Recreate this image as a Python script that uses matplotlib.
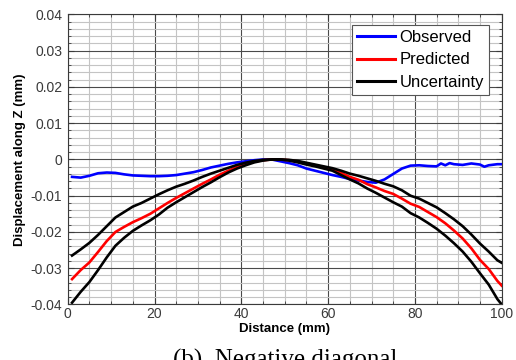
import matplotlib
matplotlib.use("Agg")
from matplotlib import pyplot as plt
from matplotlib.ticker import MultipleLocator, FormatStrFormatter
import numpy as np

# distance (mm) for predicted / uncertainty bands
x_band = [1, 3, 5, 7, 9, 11, 13, 15, 17, 19, 21, 23, 25, 27, 29, 31, 33, 35, 37, 39,
          41, 43, 45, 47, 49, 51, 53, 55, 57, 59, 61, 63, 65, 67, 69, 71, 73, 75, 77, 79,
          81, 83, 85, 87, 89, 91, 93, 95, 97, 99, 100]

predicted = [-0.0330, -0.0305, -0.0284, -0.0255, -0.0225, -0.0200, -0.0186, -0.0173, -0.0162, -0.0150,
             -0.0135, -0.0120, -0.0106, -0.0093, -0.0080, -0.0067, -0.0055, -0.0042, -0.0031, -0.0021,
             -0.0013, -0.0006, -0.0002, 0.0, 0.0, -0.0002, -0.0006, -0.0011, -0.0016, -0.0021,
             -0.0027, -0.0037, -0.0048, -0.0056, -0.0068, -0.0077, -0.0087, -0.0095, -0.0108, -0.0122,
             -0.0131, -0.0145, -0.0159, -0.0176, -0.0196, -0.0218, -0.0245, -0.0277, -0.0302, -0.0335, -0.0348]

upper = [-0.0265, -0.0248, -0.0230, -0.0208, -0.0184, -0.0160, -0.0145, -0.0130, -0.0120, -0.0108,
         -0.0096, -0.0085, -0.0075, -0.0067, -0.0058, -0.0048, -0.0039, -0.0031, -0.0023, -0.0015,
         -0.0009, -0.0004, -0.0001, 0.0, 0.0, -0.0001, -0.0004, -0.0009, -0.0014, -0.0019,
         -0.0024, -0.0031, -0.0039, -0.0045, -0.0052, -0.0059, -0.0067, -0.0074, -0.0085, -0.0100,
         -0.0108, -0.0120, -0.0132, -0.0148, -0.0165, -0.0184, -0.0207, -0.0232, -0.0254, -0.0278, -0.0285]

lower = [-0.0395, -0.0365, -0.0338, -0.0305, -0.0270, -0.0238, -0.0216, -0.0197, -0.0182, -0.0168,
         -0.0152, -0.0133, -0.0118, -0.0104, -0.0090, -0.0076, -0.0063, -0.0049, -0.0036, -0.0025,
         -0.0016, -0.0008, -0.0003, 0.0, 0.0, -0.0003, -0.0008, -0.0014, -0.0019, -0.0025,
         -0.0031, -0.0043, -0.0055, -0.0066, -0.0080, -0.0092, -0.0105, -0.0118, -0.0130, -0.0148,
         -0.0160, -0.0175, -0.0191, -0.0210, -0.0231, -0.0254, -0.0282, -0.0314, -0.0345, -0.0385, -0.0400]

# observed displacement
x_obs = [1, 3, 5, 7, 9, 11, 13, 15, 17, 19, 21, 23, 25, 27, 29, 31, 33, 35, 37, 39,
         41, 43, 45, 47, 49, 51, 53, 55, 57, 59, 61, 63, 65, 67, 69, 71, 73, 75, 77, 79,
         81, 83, 85, 86, 87, 88, 89, 91, 93, 95, 96, 97, 99, 100]
observed = [-0.0048, -0.0050, -0.0045, -0.0038, -0.0036, -0.0037, -0.0041, -0.0044, -0.0045, -0.0046,
            -0.0046, -0.0045, -0.0043, -0.0039, -0.0035, -0.0029, -0.0022, -0.0017, -0.0012, -0.0008,
            -0.0005, -0.0002, 0.0, 0.0, -0.0005, -0.0010, -0.0016, -0.0025, -0.0031, -0.0037,
            -0.0043, -0.0048, -0.0054, -0.0058, -0.0062, -0.0064, -0.0055, -0.0040, -0.0025, -0.0017,
            -0.0016, -0.0018, -0.0019, -0.0011, -0.0016, -0.0010, -0.0013, -0.0015, -0.0011, -0.0014,
            -0.0020, -0.0016, -0.0013, -0.0013]

plt.rcParams["font.family"] = ["Liberation Sans", "DejaVu Sans"]

fig = plt.figure(figsize=(5.16, 3.6), dpi=100)
ax = fig.add_axes([0.1312, 0.1542, 0.8411, 0.8056])

lw = 1.9
ax.plot(x_obs, observed, "-", color="#0000ff", lw=lw, label="Observed", zorder=3)
ax.plot(x_band, predicted, "-", color="#ff0000", lw=lw, label="Predicted", zorder=4)
ax.plot(x_band, upper, "-", color="black", lw=lw, label="Uncertainty", zorder=5)
ax.plot(x_band, lower, "-", color="black", lw=lw, zorder=5)

ax.set_xlim(0, 100)
ax.set_ylim(-0.04, 0.04)
ax.xaxis.set_major_locator(MultipleLocator(20))
ax.xaxis.set_minor_locator(MultipleLocator(5))
ax.yaxis.set_major_locator(MultipleLocator(0.01))
ax.yaxis.set_minor_locator(MultipleLocator(0.002))
ax.yaxis.set_major_formatter(FormatStrFormatter("%g"))

ax.grid(True, which="major", color="#4a4a4a", lw=0.8)
ax.grid(True, which="minor", color="#c4c4c4", lw=0.8)
ax.set_axisbelow(True)

ax.tick_params(which="both", direction="in", top=True, right=True,
               labelsize=10, labelcolor="#3a3a3a", color="#3a3a3a")
ax.tick_params(which="major", length=4, width=0.8)
ax.tick_params(axis="x", which="major", pad=2)
ax.tick_params(axis="y", which="major", pad=4)
ax.tick_params(which="minor", length=2, width=0.6)
for s in ax.spines.values():
    s.set_color("#3a3a3a")
    s.set_linewidth(0.8)

ax.set_xlabel("Distance (mm)", fontsize=9.5, fontweight="bold", labelpad=1)
ax.set_ylabel("Displacement along Z (mm)", fontsize=9.5, fontweight="bold", labelpad=3)

leg = ax.legend(loc="upper right", bbox_to_anchor=(0.9707, 0.9638), borderaxespad=0,
                fontsize=12, handlelength=2.3, handletextpad=0.25, borderpad=0.3,
                labelspacing=0.45, fancybox=False, framealpha=1, edgecolor="#555555")
leg.get_frame().set_linewidth(0.8)
for h in leg.get_lines():
    h.set_linewidth(2.2)

fig.text(0.553, -0.019, "(b)  Negative diagonal", ha="center", va="baseline",
         fontsize=18, family=["Liberation Serif", "DejaVu Serif"])

fig.savefig("out.png", dpi=100)
